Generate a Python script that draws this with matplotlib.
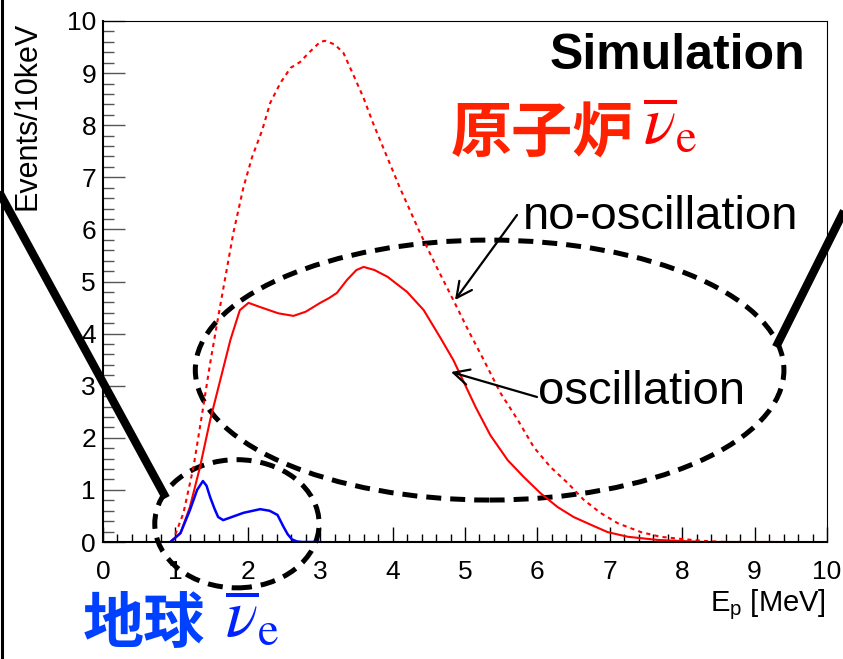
import matplotlib.pyplot as plt
from matplotlib.patches import Ellipse
from matplotlib.lines import Line2D
from matplotlib.ticker import MultipleLocator

plt.rcParams['font.family'] = ['Liberation Sans', 'DejaVu Sans']
plt.rcParams['mathtext.fontset'] = 'custom'
plt.rcParams['mathtext.rm'] = 'Liberation Sans'
plt.rcParams['mathtext.it'] = 'Liberation Sans:italic'

# reactor spectrum without oscillation (dotted)
e_noosc = [0.95, 0.97, 1.11, 1.25, 1.37, 1.48, 1.60, 1.80, 1.94, 2.06, 2.20, 2.31,
           2.45, 2.59, 2.72, 2.85, 3.00, 3.07, 3.20, 3.32, 3.46, 3.60, 3.73, 3.90,
           4.10, 4.38, 4.60, 4.84, 5.05, 5.26, 5.49, 5.73, 5.95, 6.18, 6.42, 6.64,
           6.87, 7.11, 7.43, 7.70, 7.98, 8.30, 8.60, 9.32]
n_noosc = [0.0, 0.04, 0.55, 1.44, 2.47, 3.43, 4.39, 5.93, 6.81, 7.39, 7.91, 8.43,
           8.81, 9.10, 9.21, 9.40, 9.60, 9.62, 9.55, 9.39, 8.96, 8.52, 8.04, 7.47,
           6.80, 5.93, 5.30, 4.64, 4.05, 3.49, 2.86, 2.34, 1.82, 1.44, 1.13, 0.81,
           0.56, 0.36, 0.19, 0.10, 0.06, 0.02, 0.0, 0.0]

# reactor spectrum with oscillation (solid)
e_osc = [0.93, 1.07, 1.20, 1.34, 1.48, 1.62, 1.76, 1.89, 2.01, 2.17, 2.42, 2.63,
         2.80, 3.00, 3.12, 3.23, 3.37, 3.50, 3.60, 3.75, 3.93, 4.20, 4.43, 4.66,
         4.84, 5.00, 5.15, 5.35, 5.59, 5.81, 6.04, 6.28, 6.50, 6.74, 6.97, 7.25,
         7.66, 7.98, 8.30, 9.32]
n_osc = [0.0, 0.17, 0.67, 1.44, 2.34, 3.11, 3.88, 4.45, 4.59, 4.51, 4.39, 4.34,
         4.42, 4.59, 4.68, 4.78, 5.03, 5.22, 5.28, 5.22, 5.09, 4.80, 4.45, 3.92,
         3.49, 3.02, 2.58, 2.05, 1.57, 1.25, 0.94, 0.67, 0.48, 0.33, 0.19, 0.10,
         0.04, 0.02, 0.0, 0.0]

# geo-neutrino spectrum (blue)
e_geo = [0.93, 1.07, 1.20, 1.30, 1.38, 1.43, 1.48, 1.54, 1.59, 1.66, 1.80, 1.94,
         2.17, 2.30, 2.41, 2.49, 2.55, 2.61, 2.68, 2.75, 3.00]
n_geo = [0.0, 0.17, 0.61, 1.00, 1.17, 1.08, 0.86, 0.64, 0.48, 0.42, 0.49, 0.56,
         0.63, 0.60, 0.52, 0.30, 0.15, 0.05, 0.01, 0.0, 0.0]

W, H = 843, 659
fig = plt.figure(figsize=(W / 100, H / 100), dpi=100)
ax = fig.add_axes([103 / W, 1 - 542 / H, (827 - 103) / W, (542 - 21) / H])

ax.plot(e_noosc, n_noosc, color='red', lw=1.5, dashes=(2, 2))
ax.plot(e_osc, n_osc, color='red', lw=1.5)
ax.plot(e_geo, n_geo, color='blue', lw=1.8)

ax.set_xlim(0, 10)
ax.set_ylim(0, 10)
ax.xaxis.set_major_locator(MultipleLocator(1))
ax.xaxis.set_minor_locator(MultipleLocator(0.2))
ax.yaxis.set_major_locator(MultipleLocator(1))
ax.yaxis.set_minor_locator(MultipleLocator(0.2))
ax.tick_params(axis='x', which='major', direction='in', length=11, width=1, labelsize=19, pad=13)
ax.tick_params(axis='x', which='minor', direction='in', length=5.5, width=1)
ax.tick_params(axis='y', which='major', direction='in', length=15.5, width=1, color='#555555',
               labelsize=19, pad=5)
ax.tick_params(axis='y', which='minor', direction='in', length=8, width=1, color='#555555')
for s in ['top', 'right']:
    ax.spines[s].set_linewidth(0.8)
for s in ['left', 'bottom']:
    ax.spines[s].set_linewidth(1.5)

# dashed ellipses
ax.add_patch(Ellipse((5.34, 3.30), 8.13, 4.99, fill=False, lw=3.6, ls=(0, (3, 1.8)),
                     color='black', clip_on=False))
ax.add_patch(Ellipse((1.85, 0.35), 2.27, 2.46, fill=False, lw=3.6, ls=(0, (3, 1.8)),
                     color='black', clip_on=False))


def fx(px):
    return px / W


def fy(py):
    return 1 - py / H


fig.text(fx(28), fy(22), 'Events/10keV', rotation=90, ha='center', va='top', fontsize=22)
fig.text(fx(826), fy(611), r'E$_{\mathrm{p}}$ [MeV]', ha='right', va='baseline', fontsize=21)
fig.text(fx(805), fy(69), 'Simulation', ha='right', va='baseline', fontsize=36, fontweight='bold')
fig.text(fx(523), fy(229), 'no-oscillation', ha='left', va='baseline', fontsize=34)
fig.text(fx(538), fy(404), 'oscillation', ha='left', va='baseline', fontsize=34)

fig.text(fx(451), fy(153), '原子炉', ha='left', va='baseline', fontsize=44, fontweight='bold',
         color='#ff2200', family=['Noto Sans CJK JP', 'DejaVu Sans'])
fig.text(fx(643), fy(143), r'$\overline{\nu}_{\mathrm{e}}$', ha='left', va='baseline', fontsize=48,
         color='red', math_fontfamily='stix')
fig.text(fx(83), fy(643), '地球', ha='left', va='baseline', fontsize=44, fontweight='bold',
         color='#0040ff', family=['Noto Sans CJK JP', 'DejaVu Sans'])
fig.text(fx(225), fy(636), r'$\overline{\nu}_{\mathrm{e}}$', ha='left', va='baseline', fontsize=48,
         color='#0022ff', math_fontfamily='stix')

# arrows
ax.annotate('', xy=(455, H - 300), xycoords='figure pixels', xytext=(517, H - 215),
            textcoords='figure pixels',
            arrowprops=dict(arrowstyle='->', lw=1.6, color='black', mutation_scale=28,
                            shrinkA=0, shrinkB=0))
ax.annotate('', xy=(451, H - 372), xycoords='figure pixels', xytext=(537, H - 397),
            textcoords='figure pixels',
            arrowprops=dict(arrowstyle='->', lw=1.6, color='black', mutation_scale=28,
                            shrinkA=0, shrinkB=0))

# thick connector lines and left border from the slide
fig.add_artist(Line2D([fx(-2), fx(166)], [fy(190), fy(498)], lw=6, color='black',
                      solid_capstyle='butt'))
fig.add_artist(Line2D([fx(776), fx(850)], [fy(347), fy(199)], lw=6, color='black',
                      solid_capstyle='butt'))
fig.add_artist(Line2D([fx(1.5), fx(1.5)], [0, 1], lw=2.2, color='black'))

fig.savefig('out.png', dpi=100)
